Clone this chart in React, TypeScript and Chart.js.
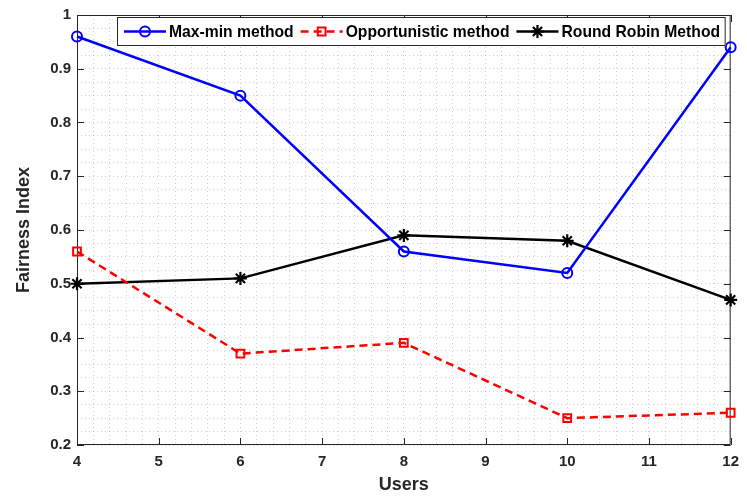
import React, { useEffect, useRef } from 'react';
import { Chart, registerables } from 'chart.js';

Chart.register(...registerables);

// Number of users on the x axis
const users = [4, 6, 8, 10, 12];

// Fairness index of each scheduling scheme
const maxMinFairness = [0.96, 0.85, 0.56, 0.52, 0.94];
const opportunisticFairness = [0.56, 0.37, 0.39, 0.25, 0.26];
const roundRobinFairness = [0.5, 0.51, 0.59, 0.58, 0.47];

const seriesNames = ['Max-min method', 'Opportunistic method', 'Round Robin Method'];

// Axis ranges, major/minor steps
const xRange = [4, 12];
const yRange = [0.2, 1];
const xMajorStep = 1;
const xMinorStep = 0.2;
const yMajorStep = 0.1;
const yMinorStep = 0.025;

const FONT = '"Liberation Sans", Arial, Helvetica, sans-serif';
const AXIS_COLOR = '#262626';
const GRID_COLOR = 'rgba(0,0,0,0.18)';

const isMultiple = (v: number, step: number) => Math.abs(v / step - Math.round(v / step)) < 1e-6;

type MarkerStyle = 'circle' | 'rect' | 'star';

function drawMarker(ctx: CanvasRenderingContext2D, style: MarkerStyle, x: number, y: number, r: number, color: string, lw: number) {
  ctx.save();
  ctx.setLineDash([]);
  ctx.strokeStyle = color;
  ctx.lineWidth = lw;
  ctx.beginPath();
  if (style === 'circle') {
    ctx.arc(x, y, r, 0, Math.PI * 2);
  } else if (style === 'rect') {
    const s = r * Math.SQRT1_2;
    ctx.rect(x - s, y - s, 2 * s, 2 * s);
  } else {
    for (let i = 0; i < 4; i++) {
      const a = (i * Math.PI) / 4;
      ctx.moveTo(x - Math.cos(a) * r, y - Math.sin(a) * r);
      ctx.lineTo(x + Math.cos(a) * r, y + Math.sin(a) * r);
    }
  }
  ctx.stroke();
  ctx.restore();
}

// Boxed axes with inward major tick marks on all four sides
const framePlugin = {
  id: 'boxFrame',
  beforeDatasetsDraw(chart: any) {
    const { ctx, chartArea: a, scales } = chart;
    const tick = 7;
    ctx.save();
    ctx.strokeStyle = AXIS_COLOR;
    ctx.lineWidth = 1;
    ctx.setLineDash([]);
    ctx.beginPath();
    ctx.rect(a.left + 0.5, a.top + 0.5, a.right - a.left - 1, a.bottom - a.top - 1);
    for (let v = xRange[0]; v <= xRange[1] + 1e-9; v += xMajorStep) {
      const px = Math.round(scales.x.getPixelForValue(v)) + 0.5;
      ctx.moveTo(px, a.bottom);
      ctx.lineTo(px, a.bottom - tick);
      ctx.moveTo(px, a.top);
      ctx.lineTo(px, a.top + tick);
    }
    for (let i = 0; ; i++) {
      const v = yRange[0] + i * yMajorStep;
      if (v > yRange[1] + 1e-9) break;
      const py = Math.round(scales.y.getPixelForValue(v)) + 0.5;
      ctx.moveTo(a.left, py);
      ctx.lineTo(a.left + tick, py);
      ctx.moveTo(a.right, py);
      ctx.lineTo(a.right - tick, py);
    }
    ctx.stroke();
    ctx.restore();
  },
};

// Legend drawn inside the top-right corner of the plot area
const insetLegendPlugin = {
  id: 'insetLegend',
  afterDatasetsDraw(chart: any) {
    const { ctx, chartArea: a } = chart;
    const sets = chart.data.datasets;
    const lineLen = 42;
    const textGap = 3;
    const itemGap = 7;
    const padL = 7;
    const padR = 6;
    ctx.save();
    ctx.font = `bold 15.7px ${FONT}`;
    const widths = sets.map((d: any) => ctx.measureText(d.label).width);
    const total =
      padL + padR + widths.reduce((s: number, w: number) => s + lineLen + textGap + w, 0) + itemGap * (sets.length - 1);
    const right = a.right - 5;
    const top = a.top + 2;
    const h = 29;
    const left = Math.round(right - total);
    ctx.fillStyle = '#ffffff';
    ctx.fillRect(left, top, right - left, h);
    ctx.strokeStyle = AXIS_COLOR;
    ctx.lineWidth = 1;
    ctx.strokeRect(left + 0.5, top + 0.5, right - left - 1, h - 1);
    const cy = top + h / 2;
    let x = left + padL;
    sets.forEach((d: any, i: number) => {
      ctx.save();
      ctx.strokeStyle = d.borderColor;
      ctx.lineWidth = d.borderWidth;
      ctx.setLineDash(d.borderDash || []);
      ctx.beginPath();
      ctx.moveTo(x, cy);
      ctx.lineTo(x + lineLen, cy);
      ctx.stroke();
      ctx.restore();
      drawMarker(ctx, d.pointStyle, x + lineLen / 2, cy, d.pointRadius, d.borderColor, d.pointBorderWidth);
      ctx.fillStyle = '#000000';
      ctx.textBaseline = 'middle';
      ctx.textAlign = 'left';
      ctx.fillText(d.label, x + lineLen + textGap, cy + 1);
      x += lineLen + textGap + widths[i] + itemGap;
    });
    ctx.restore();
  },
};

const toPoints = (ys: number[]) => users.map((u, i) => ({ x: u, y: ys[i] }));

export default function App() {
  const canvasRef = useRef<HTMLCanvasElement | null>(null);

  useEffect(() => {
    document.body.style.margin = '0';
    const canvas = canvasRef.current;
    if (!canvas) return;
    const tickFont = { family: FONT, size: 15, weight: 'bold' as const };
    const titleFont = { family: FONT, size: 18, weight: 'bold' as const };
    const chart = new Chart(canvas, {
      type: 'line',
      data: {
        datasets: [
          {
            label: seriesNames[0],
            data: toPoints(maxMinFairness),
            borderColor: '#0000ff',
            borderWidth: 2.5,
            pointStyle: 'circle',
            pointRadius: 5,
            pointBorderWidth: 2,
            pointBackgroundColor: 'rgba(0,0,0,0)',
            pointBorderColor: '#0000ff',
            clip: false,
          },
          {
            label: seriesNames[1],
            data: toPoints(opportunisticFairness),
            borderColor: '#ff0000',
            borderWidth: 2.5,
            borderDash: [8, 5],
            pointStyle: 'rect',
            pointRadius: 5.5,
            pointBorderWidth: 2,
            pointBackgroundColor: 'rgba(0,0,0,0)',
            pointBorderColor: '#ff0000',
            clip: false,
          },
          {
            label: seriesNames[2],
            data: toPoints(roundRobinFairness),
            borderColor: '#000000',
            borderWidth: 2.5,
            pointStyle: 'star',
            pointRadius: 6.5,
            pointBorderWidth: 2.2,
            pointBackgroundColor: 'rgba(0,0,0,0)',
            pointBorderColor: '#000000',
            clip: false,
          },
        ] as any,
      },
      options: {
        animation: false,
        responsive: false,
        devicePixelRatio: 1,
        layout: { padding: { top: 14, right: 13, left: 0, bottom: 0 } },
        plugins: { legend: { display: false }, tooltip: { enabled: false } },
        elements: { line: { tension: 0 } },
        scales: {
          x: {
            type: 'linear',
            min: xRange[0],
            max: xRange[1],
            afterFit: (s: any) => {
              s.height = 51;
            },
            ticks: {
              stepSize: xMinorStep,
              autoSkip: false,
              maxRotation: 0,
              minRotation: 0,
              padding: 8,
              color: AXIS_COLOR,
              font: tickFont,
              callback: (v: any) => (isMultiple(Number(v), xMajorStep) ? String(Math.round(Number(v))) : ''),
            },
            grid: { color: GRID_COLOR, lineWidth: 1, drawTicks: false },
            border: { display: false, dash: [1, 3] },
            title: {
              display: true,
              text: 'Users',
              color: AXIS_COLOR,
              font: titleFont,
              padding: { top: 0, bottom: 0 },
            },
          },
          y: {
            type: 'linear',
            min: yRange[0],
            max: yRange[1],
            afterFit: (s: any) => {
              s.width = 77;
            },
            ticks: {
              stepSize: yMinorStep,
              autoSkip: false,
              padding: 6,
              color: AXIS_COLOR,
              font: tickFont,
              callback: (v: any) =>
                isMultiple(Number(v), yMajorStep) ? String(Math.round(Number(v) * 10) / 10) : '',
            },
            grid: { color: GRID_COLOR, lineWidth: 1, drawTicks: false },
            border: { display: false, dash: [1, 3] },
            title: {
              display: true,
              text: 'Fairness Index',
              color: AXIS_COLOR,
              font: titleFont,
              padding: { top: 13, bottom: 0 },
            },
          },
        },
      } as any,
      plugins: [framePlugin, insetLegendPlugin],
    });
    return () => chart.destroy();
  }, []);

  return (
    <div style={{ width: 747, height: 496, background: '#ffffff' }}>
      <canvas ref={canvasRef} width={747} height={496} />
    </div>
  );
}
